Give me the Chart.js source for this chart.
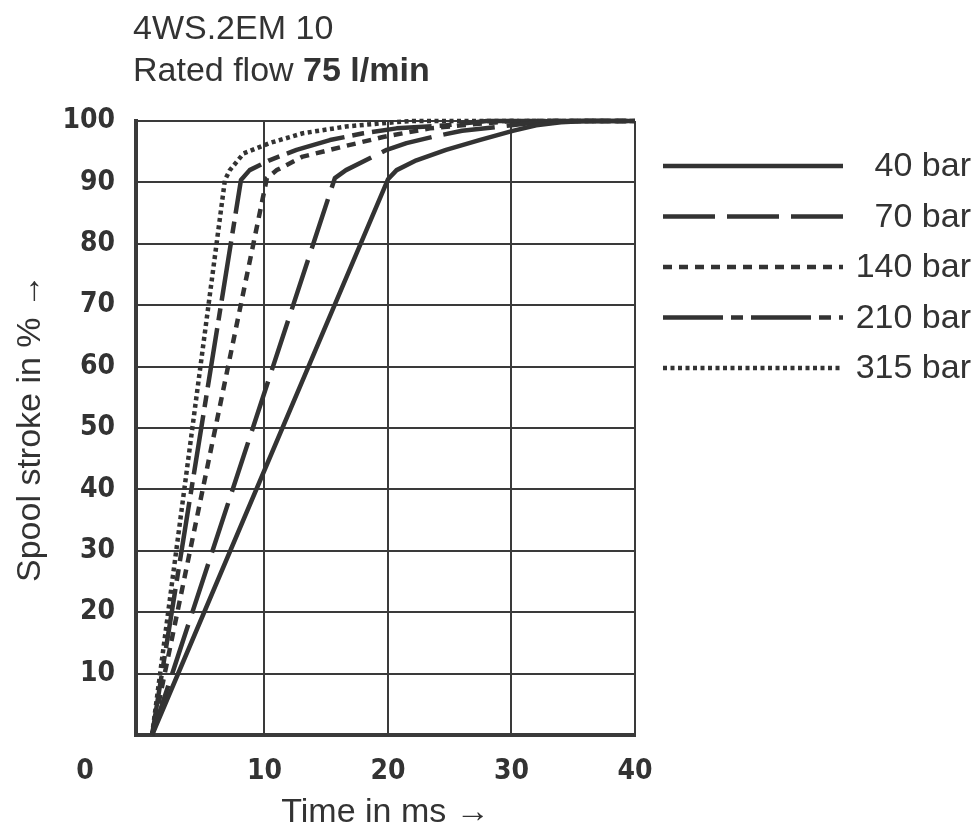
<!DOCTYPE html>
<html>
<head>
<meta charset="utf-8">
<script src="https://cdn.jsdelivr.net/npm/chart.js@4.4.1/dist/chart.umd.min.js"></script>
<style>
  html, body { margin: 0; padding: 0; background: #fff; }
  #wrap { width: 978px; height: 829px; position: relative; }
</style>
</head>
<body>
<div id="wrap"><canvas id="strokeChart"></canvas></div>
<script>
// ===== Data =====
const titleLine1 = "4WS.2EM 10";
const titleLine2 = "Rated flow ";
const titleLine2Bold = "75 l/min";
const xTitle = "Time in ms \u2192";
const yTitle = "Spool stroke in % \u2192";

const seriesLabels = ["40 bar", "70 bar", "140 bar", "210 bar", "315 bar"];

const xTicks = [10, 20, 30, 40];
const yTicks = [0, 10, 20, 30, 40, 50, 60, 70, 80, 90, 100];

// time (ms) / stroke (%)
const t40 = [0.9, 20, 20.7, 22.3, 24.7, 27.4, 30.1, 32, 34, 36, 40];
const s40 = [0, 90.5, 92, 93.6, 95.3, 96.9, 98.4, 99.3, 99.8, 100, 100];

const t70 = [0.9, 15.7, 16.6, 19.9, 21.5, 23.8, 26, 30, 33, 40];
const s70 = [0, 90.7, 92, 95.3, 96.4, 97.5, 98.4, 99.3, 100, 100];

const t140 = [0.9, 10.2, 11, 13.1, 16.3, 19.6, 23.4, 26, 30, 40];
const s140 = [0, 90.7, 92, 94.2, 95.8, 97.4, 98.8, 99.3, 100, 100];

const t210 = [0.9, 8.1, 8.8, 10.4, 12.6, 15.3, 18, 20.7, 24.7, 28, 40];
const s210 = [0, 90.4, 92, 93.6, 95.3, 96.9, 98, 98.8, 99.3, 100, 100];

const t315 = [0.9, 6.8, 7.2, 8.3, 10.4, 13.1, 16.6, 19.9, 22, 40];
const s315 = [0, 90.4, 92, 94.7, 96.4, 98, 99.1, 99.7, 100, 100];

// ===== Styles =====
const ink = "#333333";
const gridInk = "#3a3a3a";
const sansFont = '"Liberation Sans", Arial, Helvetica, sans-serif';
const tickFamily = '"DejaVu Sans Condensed", "Liberation Sans Narrow", "DejaVu Sans", sans-serif';
const textSize = 34;
const tickSize = 28;
const xTickPad = 20;

const dashes = [
  [],
  [52, 12],
  [9, 7],
  [60, 8, 12, 8],
  [4, 3.5]
];

function toPoints(xs, ys) {
  return xs.map((x, i) => ({ x: x, y: ys[i] }));
}

const seriesData = [
  toPoints(t40, s40),
  toPoints(t70, s70),
  toPoints(t140, s140),
  toPoints(t210, s210),
  toPoints(t315, s315)
];

const datasets = seriesLabels.map((label, i) => ({
  label: label,
  data: seriesData[i],
  borderColor: ink,
  borderWidth: 4.5,
  borderDash: dashes[i],
  borderCapStyle: "butt",
  borderJoinStyle: "round",
  pointRadius: 0,
  tension: 0,
  fill: false,
  clip: false
}));

// header, legend and the lone "0" label
const extrasPlugin = {
  id: "extras",
  afterDraw(chart) {
    const ctx = chart.ctx;
    const area = chart.chartArea;
    ctx.save();
    ctx.fillStyle = ink;

    // header
    ctx.textAlign = "left";
    ctx.textBaseline = "alphabetic";
    ctx.font = textSize + "px " + sansFont;
    ctx.fillText(titleLine1, area.left - 3, 39);
    ctx.fillText(titleLine2, area.left - 3, 81);
    const w = ctx.measureText(titleLine2).width;
    ctx.font = "bold " + textSize + "px " + sansFont;
    ctx.fillText(titleLine2Bold, area.left - 3 + w, 81);

    // "0" sits left of the plot
    ctx.font = "bold " + tickSize + "px " + tickFamily;
    ctx.textAlign = "center";
    ctx.textBaseline = "middle";
    ctx.fillText("0", area.left - 51, area.bottom + xTickPad + tickSize * 0.6);

    // legend
    ctx.font = textSize + "px " + sansFont;
    ctx.textAlign = "right";
    chart.data.datasets.forEach((ds, i) => {
      const y = area.top + 45 + i * 50.5;
      ctx.strokeStyle = ink;
      ctx.lineWidth = 4.5;
      ctx.lineCap = "butt";
      ctx.setLineDash(ds.borderDash);
      ctx.beginPath();
      ctx.moveTo(area.right + 28, y);
      ctx.lineTo(area.right + 208, y);
      ctx.stroke();
      ctx.setLineDash([]);
      ctx.fillText(ds.label, area.right + 336, y + 1);
    });
    ctx.restore();
  }
};

new Chart(document.getElementById("strokeChart"), {
  type: "line",
  data: { datasets },
  plugins: [extrasPlugin],
  options: {
    responsive: true,
    maintainAspectRatio: false,
    animation: false,
    layout: {
      padding: { top: 121, right: 343, bottom: 0, left: 0 }
    },
    plugins: {
      legend: { display: false },
      tooltip: { enabled: false }
    },
    scales: {
      x: {
        type: "linear",
        min: -0.4,
        max: 40,
        afterBuildTicks: s => { s.ticks = xTicks.map(v => ({ value: v })); },
        afterFit: s => { s.height = 94; },
        grid: { color: gridInk, lineWidth: 2, drawTicks: false },
        border: { display: true, color: gridInk, width: 4 },
        ticks: {
          padding: xTickPad,
          color: ink,
          maxRotation: 0,
          font: { family: tickFamily, size: tickSize, weight: "bold" }
        },
        title: {
          display: true,
          text: xTitle,
          color: ink,
          padding: { top: 0, bottom: -4 },
          font: { family: sansFont, size: textSize }
        }
      },
      y: {
        min: 0,
        max: 100,
        afterBuildTicks: s => { s.ticks = yTicks.map(v => ({ value: v })); },
        afterFit: s => { s.width = 136; },
        grid: { color: gridInk, lineWidth: 2, drawTicks: false },
        border: { display: true, color: gridInk, width: 4 },
        ticks: {
          padding: 21,
          color: ink,
          callback: v => (v === 0 ? "" : v),
          font: { family: tickFamily, size: tickSize, weight: "bold" }
        },
        title: {
          display: true,
          text: yTitle,
          color: ink,
          padding: { top: 10, bottom: 0 },
          font: { family: sansFont, size: textSize }
        }
      }
    }
  }
});
</script>
</body>
</html>
